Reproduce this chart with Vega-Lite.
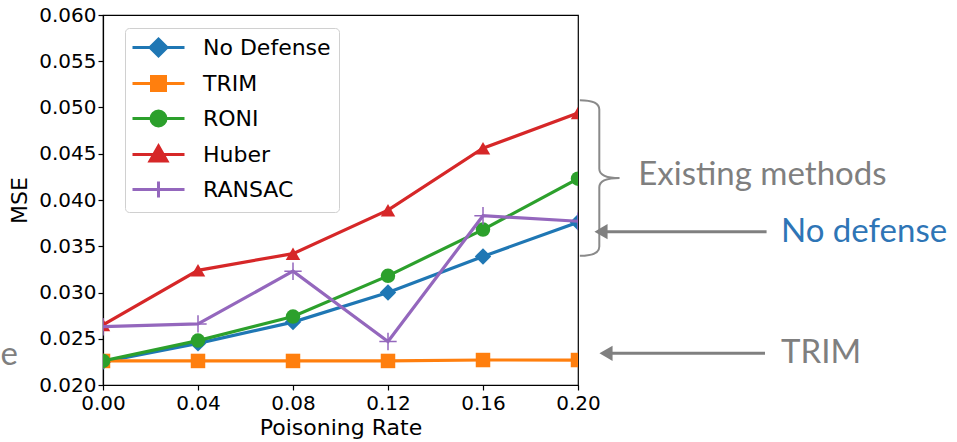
{
  "$schema": "https://vega.github.io/schema/vega-lite/v6.json",
  "width": 475,
  "height": 370,
  "autosize": {"type": "none"},
  "padding": {"left": 103, "top": 15, "right": 379, "bottom": 57},
  "background": "white",
  "config": {
    "view": {"stroke": "#000000", "strokeWidth": 1.2},
    "axis": {
      "grid": false,
      "labelFont": "DejaVu Sans",
      "titleFont": "DejaVu Sans",
      "labelFontSize": 20,
      "titleFontSize": 22,
      "titleFontWeight": "normal",
      "labelColor": "#000000",
      "titleColor": "#000000",
      "tickColor": "#000000",
      "domainColor": "#000000",
      "tickSize": 5,
      "tickWidth": 1.2,
      "domainWidth": 1.2,
      "labelFlush": false
    },
    "legend": {
      "padding": 8,
      "strokeColor": "#d0d0d0",
      "fillColor": "#ffffff",
      "cornerRadius": 4,
      "labelFontSize": 22,
      "labelFont": "DejaVu Sans",
      "labelColor": "#000000",
      "rowPadding": 8,
      "symbolSize": 400,
      "symbolStrokeWidth": 3,
      "symbolOffset": 14,
      "labelOffset": 33
    }
  },
  "data": {
    "values": [
      {"rate": 0.00, "mse": 0.0225, "series": "No Defense"},
      {"rate": 0.04, "mse": 0.0245, "series": "No Defense"},
      {"rate": 0.08, "mse": 0.0268, "series": "No Defense"},
      {"rate": 0.12, "mse": 0.0300, "series": "No Defense"},
      {"rate": 0.16, "mse": 0.0339, "series": "No Defense"},
      {"rate": 0.20, "mse": 0.0376, "series": "No Defense"},
      {"rate": 0.00, "mse": 0.0226, "series": "TRIM"},
      {"rate": 0.04, "mse": 0.0226, "series": "TRIM"},
      {"rate": 0.08, "mse": 0.0226, "series": "TRIM"},
      {"rate": 0.12, "mse": 0.0226, "series": "TRIM"},
      {"rate": 0.16, "mse": 0.0227, "series": "TRIM"},
      {"rate": 0.20, "mse": 0.0227, "series": "TRIM"},
      {"rate": 0.00, "mse": 0.0226, "series": "RONI"},
      {"rate": 0.04, "mse": 0.0248, "series": "RONI"},
      {"rate": 0.08, "mse": 0.0274, "series": "RONI"},
      {"rate": 0.12, "mse": 0.0318, "series": "RONI"},
      {"rate": 0.16, "mse": 0.0368, "series": "RONI"},
      {"rate": 0.20, "mse": 0.0423, "series": "RONI"},
      {"rate": 0.00, "mse": 0.0265, "series": "Huber"},
      {"rate": 0.04, "mse": 0.0324, "series": "Huber"},
      {"rate": 0.08, "mse": 0.0342, "series": "Huber"},
      {"rate": 0.12, "mse": 0.0389, "series": "Huber"},
      {"rate": 0.16, "mse": 0.0456, "series": "Huber"},
      {"rate": 0.20, "mse": 0.0494, "series": "Huber"},
      {"rate": 0.00, "mse": 0.0263, "series": "RANSAC"},
      {"rate": 0.04, "mse": 0.0266, "series": "RANSAC"},
      {"rate": 0.08, "mse": 0.0323, "series": "RANSAC"},
      {"rate": 0.12, "mse": 0.0247, "series": "RANSAC"},
      {"rate": 0.16, "mse": 0.0383, "series": "RANSAC"},
      {"rate": 0.20, "mse": 0.0377, "series": "RANSAC"}
    ]
  },
  "layer": [
    {
      "transform": [{"filter": "datum.rate < 0"}],
      "mark": {"type": "point", "filled": true, "size": 400, "strokeWidth": 3, "opacity": 1},
      "encoding": {
        "x": {
          "field": "rate", "type": "quantitative",
          "scale": {"domain": [0, 0.2], "nice": false, "zero": false},
          "axis": {"title": "Poisoning Rate", "values": [0, 0.04, 0.08, 0.12, 0.16, 0.2], "format": ".2f", "labelPadding": 3, "titlePadding": 4}
        },
        "y": {
          "field": "mse", "type": "quantitative",
          "scale": {"domain": [0.02, 0.06], "nice": false, "zero": false},
          "axis": {"title": "MSE", "values": [0.02, 0.025, 0.03, 0.035, 0.04, 0.045, 0.05, 0.055, 0.06], "format": ".3f", "labelPadding": 2, "titlePadding": 7}
        },
        "color": {
          "field": "series", "type": "nominal", "title": null,
          "scale": {"domain": ["No Defense", "TRIM", "RONI", "Huber", "RANSAC"], "range": ["#1f77b4", "#ff7f0e", "#2ca02c", "#d62728", "#9467bd"]},
          "legend": {"title": null, "orient": "none", "legendX": 22, "legendY": 13}
        },
        "stroke": {
          "field": "series", "type": "nominal", "title": null,
          "scale": {"domain": ["No Defense", "TRIM", "RONI", "Huber", "RANSAC"], "range": ["#1f77b4", "#ff7f0e", "#2ca02c", "#d62728", "#9467bd"]},
          "legend": {"title": null, "orient": "none", "legendX": 22, "legendY": 13}
        },
        "shape": {
          "field": "series", "type": "nominal", "title": null,
          "scale": {
            "domain": ["No Defense", "TRIM", "RONI", "Huber", "RANSAC"],
            "range": [
              "M-2.6,0H2.6M0,-0.85L0.85,0L0,0.85L-0.85,0Z",
              "M-2.6,0H2.6M-0.7,-0.7H0.7V0.7H-0.7Z",
              "M-2.6,0H2.6M0.75,0A0.75,0.75,0,1,1,-0.75,0A0.75,0.75,0,1,1,0.75,0Z",
              "M-2.6,0H2.6M0,-0.85L0.85,0.65L-0.85,0.65Z",
              "M-2.6,0H2.6M0,-0.8V0.8"
            ]
          },
          "legend": {"title": null, "orient": "none", "legendX": 22, "legendY": 13}
        }
      }
    },
    {
      "transform": [{"filter": "datum.series === 'No Defense'"}],
      "encoding": {
        "x": {"field": "rate", "type": "quantitative"},
        "y": {"field": "mse", "type": "quantitative"},
        "color": {"field": "series", "type": "nominal", "legend": null}
      },
      "layer": [
        {"mark": {"type": "line", "strokeWidth": 3.2, "clip": true}},
        {"mark": {"type": "point", "filled": true, "opacity": 1, "shape": "diamond", "size": 270, "clip": true}}
      ]
    },
    {
      "transform": [{"filter": "datum.series === 'TRIM'"}],
      "encoding": {
        "x": {"field": "rate", "type": "quantitative"},
        "y": {"field": "mse", "type": "quantitative"},
        "color": {"field": "series", "type": "nominal", "legend": null}
      },
      "layer": [
        {"mark": {"type": "line", "strokeWidth": 3.2, "clip": true}},
        {"mark": {"type": "point", "filled": true, "opacity": 1, "shape": "square", "size": 210, "clip": true}}
      ]
    },
    {
      "transform": [{"filter": "datum.series === 'RONI'"}],
      "encoding": {
        "x": {"field": "rate", "type": "quantitative"},
        "y": {"field": "mse", "type": "quantitative"},
        "color": {"field": "series", "type": "nominal", "legend": null}
      },
      "layer": [
        {"mark": {"type": "line", "strokeWidth": 3.2, "clip": true}},
        {"mark": {"type": "point", "filled": true, "opacity": 1, "shape": "circle", "size": 210, "clip": true}}
      ]
    },
    {
      "transform": [{"filter": "datum.series === 'Huber'"}],
      "encoding": {
        "x": {"field": "rate", "type": "quantitative"},
        "y": {"field": "mse", "type": "quantitative"},
        "color": {"field": "series", "type": "nominal", "legend": null}
      },
      "layer": [
        {"mark": {"type": "line", "strokeWidth": 3.2, "clip": true}},
        {"mark": {"type": "point", "filled": true, "opacity": 1, "shape": "triangle-up", "size": 210, "clip": true}}
      ]
    },
    {
      "transform": [{"filter": "datum.series === 'RANSAC'"}],
      "encoding": {
        "x": {"field": "rate", "type": "quantitative"},
        "y": {"field": "mse", "type": "quantitative"},
        "color": {"field": "series", "type": "nominal", "legend": null}
      },
      "layer": [
        {"mark": {"type": "line", "strokeWidth": 3.2, "clip": true}},
        {"mark": {"type": "point", "filled": false, "opacity": 1, "shape": "M0,-1V1M-1,0H1", "size": 300, "strokeWidth": 1.5, "clip": true}}
      ]
    },
    {
      "data": {"values": [{}]},
      "mark": {"type": "point", "shape": "M-0.25,-1Q0,-1,0,-0.88L0,-0.12Q0,0,0.26,0Q0,0,0,0.12L0,0.88Q0,1,-0.25,1", "size": 24240, "filled": false, "color": "#8a8a8a", "strokeWidth": 2, "opacity": 1},
      "encoding": {"x": {"datum": 0.20897}, "y": {"datum": 0.04238}}
    },
    {
      "data": {"values": [{}]},
      "mark": {"type": "rule", "color": "#808080", "strokeWidth": 3},
      "encoding": {"x": {"datum": 0.2101}, "x2": {"datum": 0.2794}, "y": {"datum": 0.036573}}
    },
    {
      "data": {"values": [{}]},
      "mark": {"type": "rule", "color": "#808080", "strokeWidth": 3},
      "encoding": {"x": {"datum": 0.2122}, "x2": {"datum": 0.27874}, "y": {"datum": 0.023427}}
    },
    {
      "data": {"values": [{}]},
      "mark": {"type": "point", "shape": "triangle-left", "size": 230, "filled": true, "color": "#808080", "opacity": 1},
      "encoding": {"x": {"datum": 0.20968}, "y": {"datum": 0.036573}}
    },
    {
      "data": {"values": [{}]},
      "mark": {"type": "point", "shape": "triangle-left", "size": 230, "filled": true, "color": "#808080", "opacity": 1},
      "encoding": {"x": {"datum": 0.21179}, "y": {"datum": 0.023427}}
    },
    {
      "data": {"values": [{}]},
      "mark": {"type": "text", "text": "Existing methods", "font": "Lato", "fontSize": 33, "color": "#7f7f7f", "align": "left", "baseline": "middle"},
      "encoding": {"x": {"datum": 0.22539}, "y": {"datum": 0.042703}}
    },
    {
      "data": {"values": [{}]},
      "mark": {"type": "text", "text": "No defense", "font": "Lato", "fontSize": 33, "color": "#2e75b6", "align": "left", "baseline": "middle"},
      "encoding": {"x": {"datum": 0.28547}, "y": {"datum": 0.036573}}
    },
    {
      "data": {"values": [{}]},
      "mark": {"type": "text", "text": "TRIM", "font": "Lato", "fontSize": 33, "color": "#7f7f7f", "align": "left", "baseline": "middle"},
      "encoding": {"x": {"datum": 0.28547}, "y": {"datum": 0.023427}}
    },
    {
      "data": {"values": [{}]},
      "mark": {"type": "text", "text": "e", "font": "Lato", "fontSize": 33, "color": "#7f7f7f", "align": "left", "baseline": "middle"},
      "encoding": {"x": {"datum": -0.0432}, "y": {"datum": 0.023243}}
    }
  ]
}
